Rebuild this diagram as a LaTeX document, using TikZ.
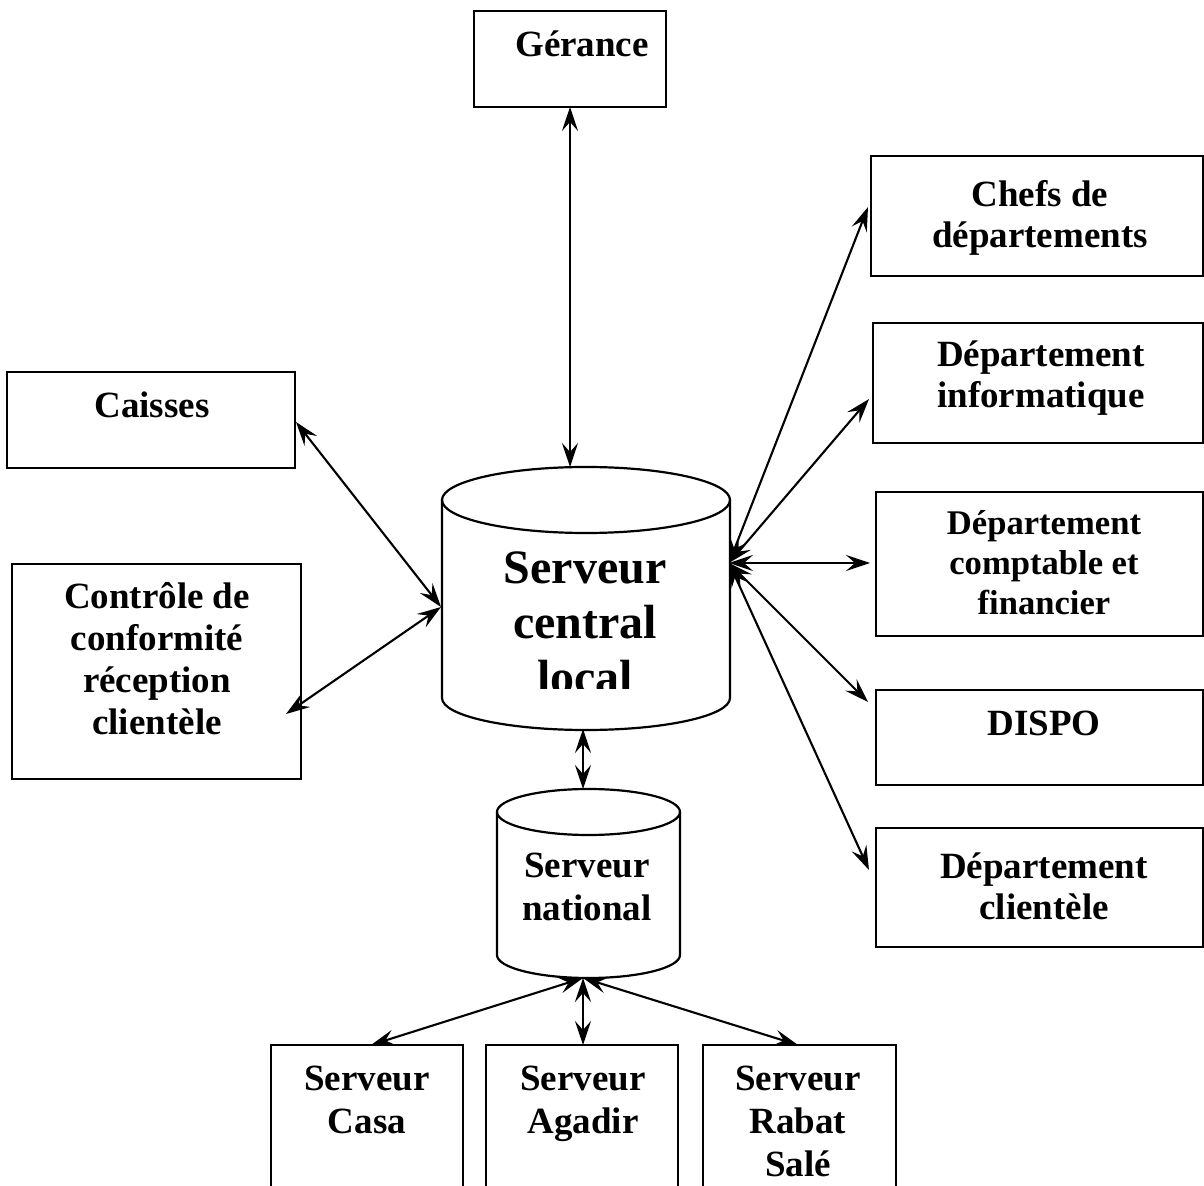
\documentclass[tikz,border=0pt]{standalone}
\usepackage{fontspec}
\setmainfont{Liberation Serif}
\usetikzlibrary{arrows.meta}
\begin{document}
\begin{tikzpicture}[x=0.5pt,y=0.5pt,
  box/.style={draw, line width=1.2pt, inner sep=0pt, outer sep=0pt},
  lbl/.style={font=\fontsize{18.5}{20.5}\selectfont\bfseries, align=flush center, text width=170pt, inner sep=0pt, anchor=base},
  big/.style={font=\fontsize{24}{27.5}\selectfont\bfseries, align=flush center, text width=170pt, inner sep=0pt, anchor=base},
  cyl/.style={line width=1.1pt},
  tip/.tip={Stealth[length=12pt,width=8pt,inset=4.5pt]},
  link/.style={line width=1.05pt, tip-tip}]
\useasboundingbox (0,0) rectangle (1204,-1186);
\clip (0,0) rectangle (1204,-1186);

% boxes
\node[box, minimum width=96pt, minimum height=48pt] (ger) at (570,-59) {};
\node[lbl] at (582,-57) {Gérance};

\node[box, minimum width=166pt, minimum height=60pt] (chefs) at (1037,-216) {};
\node[lbl] at (1040,-207) {Chefs de\\départements};

\node[box, minimum width=165pt, minimum height=60pt] (info) at (1038,-383) {};
\node[lbl] at (1041,-367) {Département\\informatique};

\node[box, minimum width=163.5pt, minimum height=72pt] (compt) at (1039.5,-564) {};
\node[lbl, font=\fontsize{17.3}{20}\selectfont\bfseries] at (1044,-535) {Département\\comptable et\\financier};

\node[box, minimum width=163.5pt, minimum height=47.5pt] (dispo) at (1039.5,-737.5) {};
\node[lbl] at (1044,-735) {DISPO};

\node[box, minimum width=163.5pt, minimum height=59.5pt] (client) at (1039.5,-887.5) {};
\node[lbl] at (1044,-878) {Département\\clientèle};

\node[box, minimum width=144pt, minimum height=48pt] (caisses) at (151,-420) {};
\node[lbl] at (152,-418) {Caisses};

\node[box, minimum width=144.5pt, minimum height=107.5pt] (ctrl) at (156.5,-671.5) {};
\node[lbl, font=\fontsize{18.5}{21}\selectfont\bfseries] at (157,-609) {Contrôle de\\conformité\\réception\\clientèle};

\node[box, minimum width=96pt, minimum height=80pt] (casa) at (367,-1125) {};
\node[lbl, font=\fontsize{18.5}{21.5}\selectfont\bfseries] at (367,-1090) {Serveur\\Casa};

\node[box, minimum width=96pt, minimum height=80pt] (agadir) at (582,-1125) {};
\node[lbl, font=\fontsize{18.5}{21.5}\selectfont\bfseries] at (583,-1090) {Serveur\\Agadir};

\node[box, minimum width=96.5pt, minimum height=80pt] (rabat) at (799.5,-1125) {};
\node[lbl, font=\fontsize{18.5}{21.5}\selectfont\bfseries] at (798,-1090) {Serveur\\Rabat\\Salé};

% central cylinder
\draw[cyl] (442,-500) -- (442,-698) arc[start angle=180, end angle=360, x radius=72pt, y radius=16pt] -- (730,-500);
\draw[cyl] (586,-500) ellipse [x radius=72pt, y radius=16.5pt];
\node[inner sep=0pt, minimum width=144pt, minimum height=131pt] (cen) at (586,-598) {};
\begin{scope}
  \clip (442,-540) rectangle (730,-689);
  \node[big] (centxt) at (585,-584) {Serveur\\central\\local};
\end{scope}

% national cylinder
\draw[cyl] (497,-812) -- (497,-955) arc[start angle=180, end angle=360, x radius=45.75pt, y radius=11.5pt] -- (680,-812);
\draw[cyl] (588.5,-812) ellipse [x radius=45.75pt, y radius=11.5pt];
\node[inner sep=0pt, minimum width=91.5pt, minimum height=95pt] (nat) at (588.5,-883) {};
\node[lbl, font=\fontsize{18.5}{21.5}\selectfont\bfseries] at (587,-877) {Serveur\\national};

% connection points
\coordinate (cenT) at (570,-467);
\coordinate (cenL) at (441,-607);
\coordinate (cenR) at (729,-563);
\coordinate (cenB) at (583,-729);
\coordinate (natT) at (583,-789);
\coordinate (natB) at (583,-978);
\coordinate (caisP) at (296,-422);
\coordinate (ctrlP) at (286,-714);
\coordinate (chefsP) at (868,-207);
\coordinate (infoP) at (869,-399);
\coordinate (comptP) at (870,-563);
\coordinate (dispoP) at (868,-702);
\coordinate (clientP) at (869,-870);
\coordinate (casaP) at (371,-1045);
\coordinate (agadirP) at (583,-1045);
\coordinate (rabatP) at (798,-1045);

% connectors
\draw[link] (ger.south) -- (cenT);
\draw[link] (caisP) -- (cenL);
\draw[link] (ctrlP) -- (cenL);
\draw[link] (cenR) -- (chefsP);
\draw[link] (cenR) -- (infoP);
\draw[link] (cenR) -- (comptP);
\draw[link] (cenR) -- (dispoP);
\draw[link] (cenR) -- (clientP);
\draw[link] (cenB) -- (natT);
\draw[link] (natB) -- (casaP);
\draw[link] (natB) -- (agadirP);
\draw[link] (natB) -- (rabatP);
\end{tikzpicture}
\end{document}
